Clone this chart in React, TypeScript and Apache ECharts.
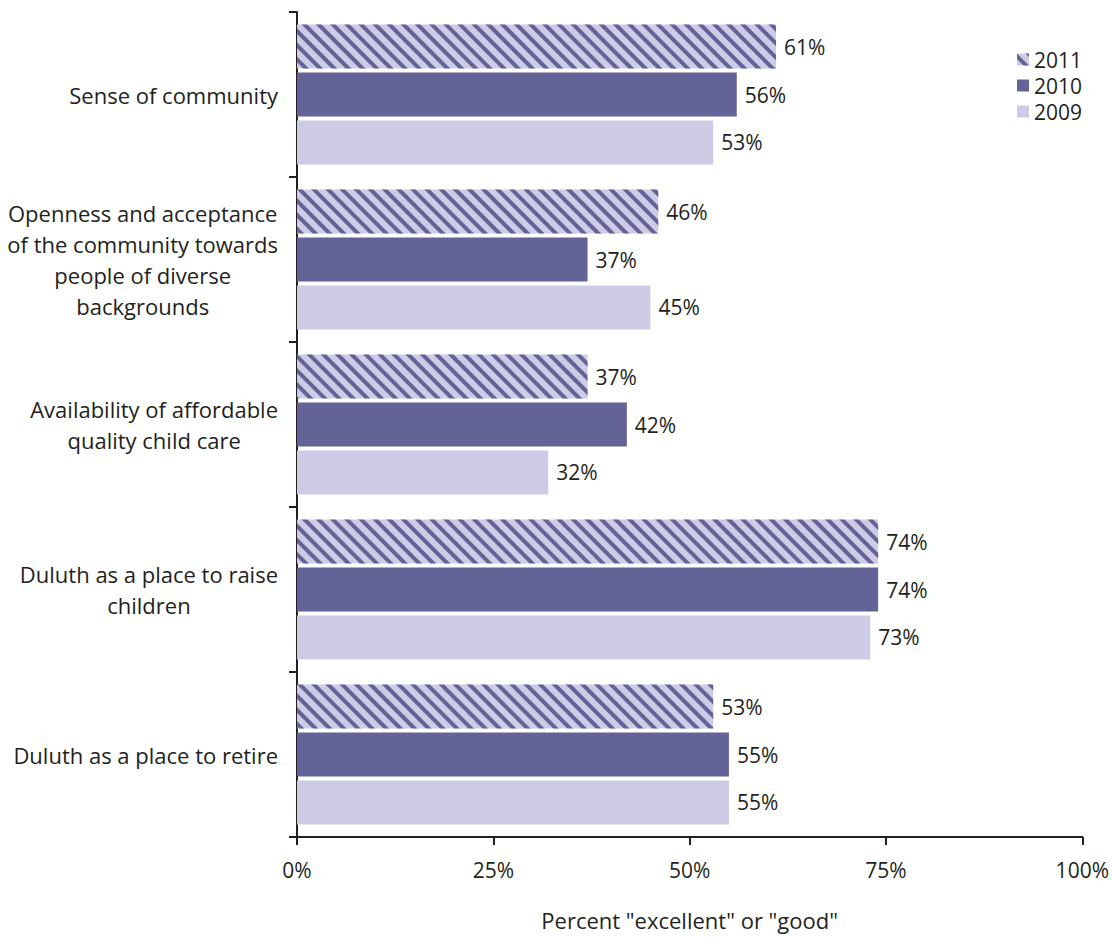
import React, { useEffect, useRef } from "react";
import * as echarts from "echarts";

const categories = [
  "Sense of community",
  "Openness and acceptance\nof the community towards\npeople of diverse\nbackgrounds",
  "Availability of affordable\nquality child care",
  "Duluth as a place to raise\nchildren",
  "Duluth as a place to retire",
];
const years = ["2011", "2010", "2009"];
const values2011 = [61, 46, 37, 74, 53];
const values2010 = [56, 37, 42, 74, 55];
const values2009 = [53, 45, 32, 73, 55];
const xTicks = [0, 25, 50, 75, 100];

const FONT = "Open Sans";
const DARK = "#636398";
const LIGHT = "#CDCBE6";
const TEXT = "#231F20";

export default function App() {
  const ref = useRef<HTMLDivElement>(null);
  useEffect(() => {
    if (!ref.current) return;
    const chart = echarts.init(ref.current, null, { renderer: "svg" });
    const label = {
      show: true,
      position: "right",
      distance: 8,
      formatter: "{c}%",
      color: TEXT,
      fontFamily: FONT,
      fontSize: 21,
    };
    const common = { type: "bar", barWidth: 44, barGap: "9%", label };
    chart.setOption({
      animation: false,
      textStyle: { fontFamily: FONT },
      legend: {
        orient: "vertical",
        left: 1012,
        top: 44,
        icon: "rect",
        itemWidth: 12,
        itemHeight: 12,
        itemGap: 5,
        textStyle: { fontFamily: FONT, fontSize: 21, lineHeight: 21, color: TEXT },
        data: years,
      },
      grid: { left: 297, right: 29, top: 12, bottom: 100, containLabel: false },
      xAxis: {
        type: "value",
        min: xTicks[0],
        max: xTicks[xTicks.length - 1],
        interval: 25,
        splitLine: { show: false },
        axisLine: { show: true, lineStyle: { color: TEXT, width: 2 } },
        axisTick: { show: true, length: 8, lineStyle: { color: TEXT, width: 2 } },
        axisLabel: { formatter: "{value}%", margin: 22, fontSize: 21, color: TEXT, fontFamily: FONT },
        name: 'Percent "excellent" or "good"',
        nameLocation: "middle",
        nameGap: 72,
        nameTextStyle: { fontSize: 22, color: TEXT, fontFamily: FONT },
      },
      yAxis: {
        type: "category",
        inverse: true,
        data: categories,
        axisLine: { show: true, lineStyle: { color: TEXT, width: 2 } },
        axisTick: { show: true, length: 8, lineStyle: { color: TEXT, width: 2 } },
        axisLabel: {
          margin: 19,
          align: "right",
          formatter: (v: string) =>
            v
              .split("\n")
              .map((l) => "{c|" + l + "}")
              .join("\n"),
          rich: {
            c: { align: "center", fontSize: 22, lineHeight: 31, color: TEXT, fontFamily: FONT },
          },
        },
      },
      series: [
        {
          ...common,
          name: years[0],
          data: values2011,
          itemStyle: {
            color: LIGHT,
            decal: {
              symbol: "rect",
              symbolSize: 1,
              color: DARK,
              dashArrayX: [1, 0],
              dashArrayY: [4, 6],
              rotation: Math.PI / 4,
            },
          },
        },
        { ...common, name: years[1], data: values2010, itemStyle: { color: DARK } },
        { ...common, name: years[2], data: values2009, itemStyle: { color: LIGHT } },
      ],
    });
    return () => chart.dispose();
  }, []);
  return (
    <div
      ref={ref}
      style={{ position: "absolute", left: 0, top: 0, width: 1112, height: 937 }}
    />
  );
}
